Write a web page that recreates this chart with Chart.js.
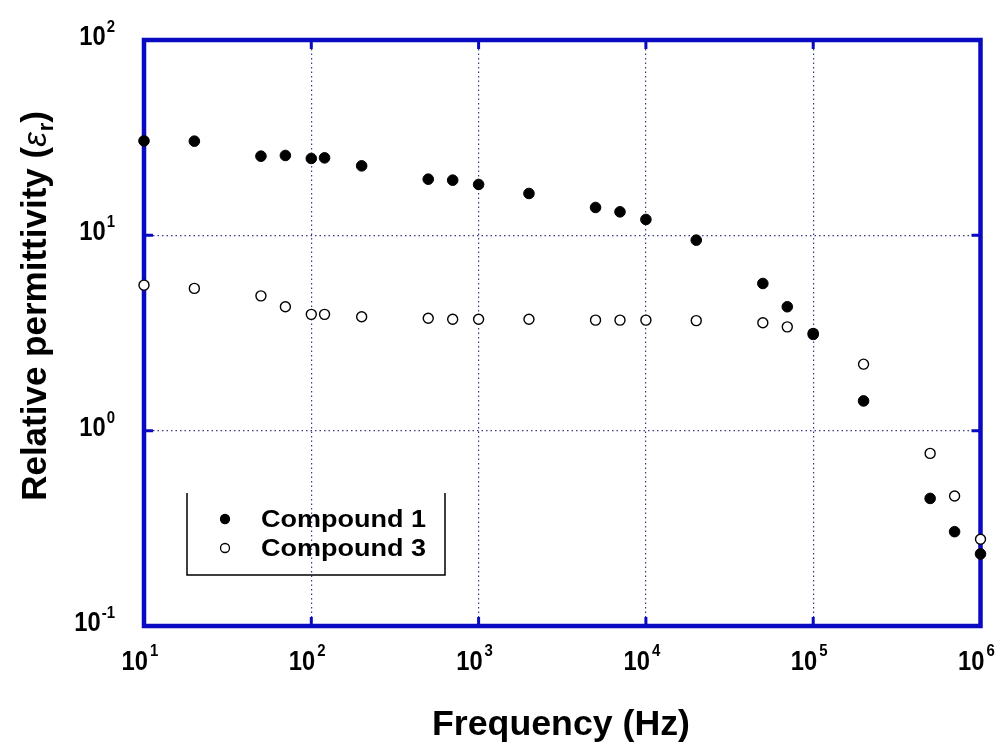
<!DOCTYPE html>
<html><head><meta charset="utf-8">
<script src="https://cdn.jsdelivr.net/npm/chart.js@4.4.1/dist/chart.umd.min.js"></script>
<style>html,body{margin:0;padding:0;background:#fff;}#wrap{width:1007px;height:746px;}</style>
</head><body><div id="wrap"><canvas id="c" width="1007" height="746"></canvas></div>
<script>
const frequency = [10,20,50,70,100,120,200,500,700,1000,2000,5000,7000,10000,20000,50000,70000,100000,200000,500000,700000,1000000];
const compound1 = [30.45,30.35,25.43,25.64,24.75,24.93,22.69,19.39,19.16,18.22,16.38,13.89,13.19,12.06,9.45,5.67,4.31,3.11,1.42,0.450,0.304,0.234];
const compound3 = [5.56,5.35,4.90,4.31,3.94,3.94,3.83,3.76,3.72,3.72,3.72,3.68,3.68,3.68,3.66,3.57,3.40,3.15,2.19,0.765,0.463,0.278];
const seriesNames = ['Compound 1','Compound 3'];
const xTickExponents = [1,2,3,4,5,6];
const yTickExponents = [-1,0,1,2];
const xTitle = 'Frequency (Hz)';
const yTitleMain = 'Relative permittivity (';
const yTitleSymbol = 'ε';
const yTitleSub = 'r';
const yTitleEnd = ')';

const FRAME = '#0a0ac2';
const GRID = '#3b3b86';
const FONT = '"Liberation Sans", Arial, sans-serif';

function txt(ctx, s, x, y, font, align, sx){
  ctx.save(); ctx.font = font; ctx.textAlign = align || 'left'; ctx.textBaseline = 'alphabetic';
  ctx.translate(x, y); ctx.scale(sx || 1, 1); ctx.fillText(s, 0, 0); ctx.restore();
}
function width(ctx, s, font){ ctx.save(); ctx.font = font; const w = ctx.measureText(s).width; ctx.restore(); return w; }

const custom = {
  id: 'custom',
  beforeDatasetsDraw(chart){
    const {ctx, chartArea: a, scales: {x, y}} = chart;
    ctx.save();
    ctx.strokeStyle = FRAME; ctx.lineCap = 'butt';
    ctx.lineWidth = 3;
    ctx.beginPath();
    for (const e of xTickExponents){
      const px = x.getPixelForValue(Math.pow(10, e));
      ctx.moveTo(px, a.bottom); ctx.lineTo(px, a.bottom - 9);
      ctx.moveTo(px, a.top); ctx.lineTo(px, a.top + 9);
    }
    for (const e of yTickExponents){
      const py = y.getPixelForValue(Math.pow(10, e));
      ctx.moveTo(a.left, py); ctx.lineTo(a.left + 9, py);
      ctx.moveTo(a.right, py); ctx.lineTo(a.right - 9, py);
    }
    ctx.stroke();
    ctx.lineWidth = 4.5;
    ctx.strokeRect(a.left, a.top, a.right - a.left, a.bottom - a.top);
    ctx.restore();
  },
  afterDraw(chart){
    const {ctx, chartArea: a, scales: {x, y}} = chart;
    ctx.save();
    ctx.fillStyle = '#000';
    const baseF = 'bold 27px ' + FONT, expF = 'bold 17px ' + FONT, sx = 0.88;
    // x tick labels
    for (const e of xTickExponents){
      const px = x.getPixelForValue(Math.pow(10, e));
      txt(ctx, '10', px + 4, 670, baseF, 'right', sx);
      txt(ctx, String(e), px + 6, 656, expF, 'left', sx);
    }
    // y tick labels
    for (const e of yTickExponents){
      const py = y.getPixelForValue(Math.pow(10, e));
      const es = String(e);
      const ew = width(ctx, es, expF) * sx;
      const right = 115;
      txt(ctx, es, right - ew, py - 8, expF, 'left', sx);
      txt(ctx, '10', right - ew - 1, py + 5, baseF, 'right', sx);
    }
    // x title
    {
      const f = 'bold 35px ' + FONT;
      const w = width(ctx, xTitle, f);
      txt(ctx, xTitle, 561, 735, f, 'center', 258 / w);
    }
    // y title
    {
      const fM = 'bold 35px ' + FONT, fS = 'italic 33px ' + FONT, fSub = 'bold 22px ' + FONT;
      const w1 = width(ctx, yTitleMain, fM), w2 = width(ctx, yTitleSymbol, fS), w3 = width(ctx, yTitleSub, fSub), w4 = width(ctx, yTitleEnd, fM);
      const tot = w1 + w2 + 1 + w3 + w4;
      ctx.save();
      ctx.translate(46, 306); ctx.rotate(-Math.PI / 2);
      let cx = -tot / 2;
      txt(ctx, yTitleMain, cx, 0, fM, 'left'); cx += w1;
      txt(ctx, yTitleSymbol, cx, 0, fS, 'left'); cx += w2 + 1;
      txt(ctx, yTitleSub, cx, 7, fSub, 'left'); cx += w3;
      txt(ctx, yTitleEnd, cx, 0, fM, 'left');
      ctx.restore();
    }
    // legend
    {
      ctx.strokeStyle = '#000'; ctx.lineWidth = 1.5;
      ctx.beginPath();
      ctx.moveTo(187, 493); ctx.lineTo(187, 575); ctx.lineTo(445, 575); ctx.lineTo(445, 493);
      ctx.stroke();
      const f = 'bold 24px ' + FONT;
      const ys = [519, 548];
      chart.data.datasets.forEach((ds, i) => {
        ctx.beginPath(); ctx.arc(225, ys[i], 4.5, 0, Math.PI * 2);
        ctx.fillStyle = ds.backgroundColor; ctx.fill();
        ctx.lineWidth = 1.3; ctx.strokeStyle = '#000'; ctx.stroke();
        ctx.fillStyle = '#000';
        const w = width(ctx, ds.label, f);
        txt(ctx, ds.label, 261, ys[i] + 8, f, 'left', 165 / w);
      });
    }
    ctx.restore();
  }
};

new Chart(document.getElementById('c'), {
  type: 'scatter',
  data: {
    datasets: [
      { label: seriesNames[0], data: frequency.map((f, i) => ({x: f, y: compound1[i]})),
        backgroundColor: '#000', borderColor: '#000', borderWidth: 1, pointRadius: 5.3, showLine: false, clip: false },
      { label: seriesNames[1], data: frequency.map((f, i) => ({x: f, y: compound3[i]})),
        backgroundColor: '#fff', borderColor: '#000', borderWidth: 1.4, pointRadius: 5, showLine: false, clip: false }
    ]
  },
  options: {
    responsive: false, animation: false, devicePixelRatio: 1,
    layout: { padding: { left: 0, top: 40, right: 26.5, bottom: 0 } },
    plugins: { legend: { display: false }, tooltip: { enabled: false } },
    scales: {
      x: {
        type: 'logarithmic', min: 10, max: 1e6,
        afterBuildTicks: s => { s.ticks = xTickExponents.map(e => ({value: Math.pow(10, e)})); },
        afterFit: s => { s.height = 120; },
        ticks: { display: false },
        grid: { color: GRID, lineWidth: 1.2, drawTicks: false },
        border: { display: false, dash: [1.5, 3] }
      },
      y: {
        type: 'logarithmic', min: 0.1, max: 100,
        afterBuildTicks: s => { s.ticks = yTickExponents.map(e => ({value: Math.pow(10, e)})); },
        afterFit: s => { s.width = 144; },
        ticks: { display: false },
        grid: { color: GRID, lineWidth: 1.2, drawTicks: false },
        border: { display: false, dash: [1.5, 3] }
      }
    }
  },
  plugins: [custom]
});
</script>
</body></html>
